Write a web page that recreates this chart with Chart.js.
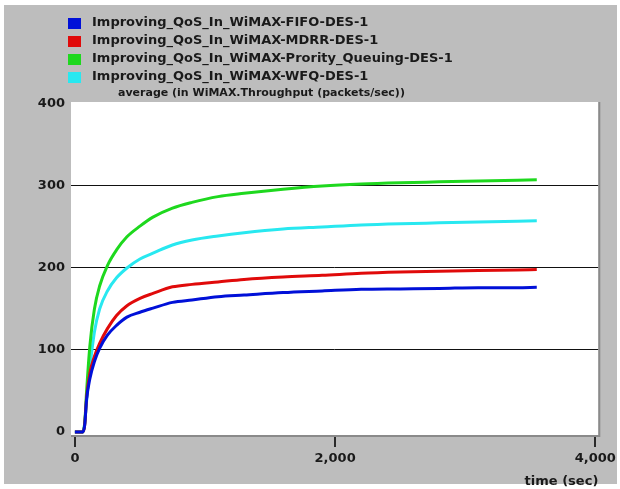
<!DOCTYPE html>
<html lang="en">
<head>
    <meta charset="UTF-8">
    <title>WiMAX Throughput</title>
    <script src="https://cdn.jsdelivr.net/npm/chart.js"></script>
    <style>
        html, body { margin: 0; padding: 0; background: #ffffff; }
        #wrap { position: relative; width: 620px; height: 489px; }
    </style>
</head>
<body>
    <div id="wrap"><canvas id="tput" width="620" height="489"></canvas></div>

    <script>
        // time axis (sec) shared by every run
        const times = [0, 60, 75, 90, 115, 150, 190, 250, 320, 400, 500, 600, 750, 900,
                       1100, 1300, 1600, 1900, 2200, 2500, 2800, 3100, 3400, 3550];

        // average WiMAX throughput (packets/sec)
        const fifo = [0, 0, 8, 40, 65, 86, 102, 118, 130, 140, 146, 151, 158, 161,
                      165, 167, 170, 172, 174, 174.5, 175, 176, 176, 176.5];
        const mdrr = [0, 0, 8, 42, 72, 92, 108, 126, 142, 154, 163, 169, 177, 180,
                      183, 186, 189, 191, 193.5, 195, 196, 197, 197.5, 198];
        const priority = [0, 0, 10, 50, 105, 150, 178, 203, 222, 238, 251, 262, 273, 280,
                          287, 291, 296, 300, 302.5, 304, 305, 306, 307, 307.5];
        const wfq = [0, 0, 10, 38, 78, 122, 150, 172, 188, 200, 211, 218, 228, 234,
                     239, 243, 247.5, 250, 252.5, 254, 255, 256, 257, 257.5];

        const seriesNames = [
            'Improving_QoS_In_WiMAX-FIFO-DES-1',
            'Improving_QoS_In_WiMAX-MDRR-DES-1',
            'Improving_QoS_In_WiMAX-Prority_Queuing-DES-1',
            'Improving_QoS_In_WiMAX-WFQ-DES-1'
        ];
        const seriesColors = ['#0010d8', '#e00a0a', '#1ed81e', '#28e8f0'];
        const statTitle = 'average (in WiMAX.Throughput (packets/sec))';
        const xTicks = [0, 2000, 4000];
        const yTicks = [0, 100, 200, 300, 400];
        const xTitle = 'time (sec)';

        const FONT = 'DejaVu Sans, Verdana, sans-serif';
        const toPoints = vals => vals.map((v, i) => ({ x: times[i], y: v }));

        // grey frame + white plot box with its right/bottom edge
        const framePlugin = {
            id: 'frame',
            beforeDraw(chart) {
                const { ctx, chartArea: a } = chart;
                ctx.save();
                ctx.fillStyle = '#bdbdbd';
                ctx.fillRect(4, 5, 613, 479);
                ctx.fillStyle = '#ffffff';
                ctx.fillRect(a.left, a.top, a.right - a.left, a.bottom - a.top);
                ctx.restore();
            },
            afterDatasetsDraw(chart) {
                const { ctx, chartArea: a } = chart;
                ctx.save();
                ctx.strokeStyle = '#8a8a8a';
                ctx.lineWidth = 2;
                ctx.beginPath();
                ctx.moveTo(a.left, a.bottom + 1);
                ctx.lineTo(a.right + 1, a.bottom + 1);
                ctx.lineTo(a.right + 1, a.top);
                ctx.stroke();
                ctx.restore();
            }
        };

        // OPNET style legend: one row per run, statistic name underneath
        const legendPlugin = {
            id: 'opnetLegend',
            afterDraw(chart) {
                const ctx = chart.ctx;
                ctx.save();
                ctx.textBaseline = 'middle';
                ctx.textAlign = 'left';
                ctx.font = 'bold 13px ' + FONT;
                chart.data.datasets.forEach((ds, i) => {
                    const y = 23 + i * 18;
                    ctx.fillStyle = ds.borderColor;
                    ctx.fillRect(68, y - 5, 13, 11);
                    ctx.fillStyle = '#1a1a1a';
                    ctx.fillText(ds.label, 92, y);
                });
                ctx.font = 'bold 11px ' + FONT;
                ctx.fillText(statTitle, 118, 93);
                ctx.restore();
            }
        };

        new Chart(document.getElementById('tput'), {
            type: 'line',
            data: {
                datasets: [fifo, mdrr, priority, wfq].map((vals, i) => ({
                    label: seriesNames[i],
                    data: toPoints(vals),
                    borderColor: seriesColors[i],
                    backgroundColor: seriesColors[i],
                    borderWidth: 3,
                    pointRadius: 0,
                    cubicInterpolationMode: 'monotone',
                    fill: false
                }))
            },
            options: {
                responsive: false,
                animation: false,
                events: [],
                layout: { padding: { top: 102, right: 20, left: 0, bottom: 0 } },
                plugins: { legend: { display: false }, tooltip: { enabled: false } },
                scales: {
                    x: {
                        type: 'linear',
                        min: -30,
                        max: 4023,
                        afterBuildTicks: s => { s.ticks = xTicks.map(v => ({ value: v })); },
                        afterFit: s => { s.height = 54; },
                        border: { display: false },
                        grid: { drawOnChartArea: false, tickLength: 12, color: '#2a2a2a', lineWidth: 2 },
                        ticks: {
                            padding: 4,
                            color: '#1a1a1a',
                            font: { family: FONT, size: 13, weight: 'bold' },
                            maxRotation: 0,
                            callback: v => v.toLocaleString('en-US')
                        },
                        title: {
                            display: true,
                            text: xTitle,
                            align: 'end',
                            color: '#1a1a1a',
                            font: { family: FONT, size: 13, weight: 'bold' },
                            padding: { top: 0, bottom: 0 }
                        }
                    },
                    y: {
                        min: -3.7,
                        max: 402.4,
                        afterBuildTicks: s => { s.ticks = yTicks.map(v => ({ value: v })); },
                        afterFit: s => { s.width = 71; },
                        border: { display: false },
                        grid: {
                            drawTicks: false,
                            lineWidth: 1,
                            color: c => (c.tick && c.tick.value > 0 && c.tick.value < 400) ? '#111111' : 'rgba(0,0,0,0)'
                        },
                        ticks: {
                            padding: 6,
                            color: '#1a1a1a',
                            font: { family: FONT, size: 13, weight: 'bold' }
                        }
                    }
                }
            },
            plugins: [framePlugin, legendPlugin]
        });
    </script>
</body>
</html>
